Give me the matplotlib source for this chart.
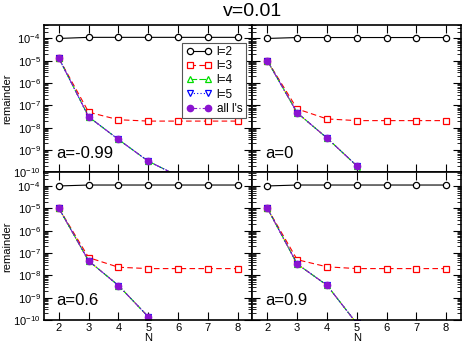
import numpy as np
import matplotlib
matplotlib.use("Agg")
import matplotlib.pyplot as plt
from matplotlib.ticker import LogLocator, NullFormatter

plt.rcParams['font.family'] = ['Liberation Sans', 'DejaVu Sans']
plt.rcParams['mathtext.fontset'] = 'custom'
plt.rcParams['mathtext.rm'] = 'Liberation Sans'

N = [2, 3, 4, 5, 6, 7, 8]
spins = ["a=-0.99", "a=0", "a=0.6", "a=0.9"]

l2 = {
    "a=-0.99": [1.0e-4, 1.12e-4, 1.12e-4, 1.12e-4, 1.12e-4, 1.12e-4, 1.12e-4],
    "a=0": [1.0e-4, 1.1e-4, 1.1e-4, 1.1e-4, 1.1e-4, 1.1e-4, 1.1e-4],
    "a=0.6": [1.0e-4, 1.1e-4, 1.1e-4, 1.1e-4, 1.1e-4, 1.1e-4, 1.1e-4],
    "a=0.9": [1.0e-4, 1.1e-4, 1.1e-4, 1.1e-4, 1.1e-4, 1.1e-4, 1.1e-4],
}
l3 = {
    "a=-0.99": [1.3e-5, 5.0e-8, 2.3e-8, 2.0e-8, 2.0e-8, 2.0e-8, 2.0e-8],
    "a=0": [1.0e-5, 7.0e-8, 2.5e-8, 2.1e-8, 2.1e-8, 2.1e-8, 2.1e-8],
    "a=0.6": [1.0e-5, 6.2e-8, 2.3e-8, 2.0e-8, 2.0e-8, 2.0e-8, 2.0e-8],
    "a=0.9": [1.0e-5, 5.0e-8, 2.4e-8, 2.0e-8, 2.0e-8, 2.0e-8, 2.0e-8],
}
l4 = {
    "a=-0.99": [1.3e-5, 3.1e-8, 3.0e-9, 3.2e-10, 7e-11, 2e-11, 1e-11],
    "a=0": [1.0e-5, 4.7e-8, 3.5e-9, 2.0e-10, 2e-12, 5e-13, 2e-13],
    "a=0.6": [1.0e-5, 4.4e-8, 3.5e-9, 1.4e-10, 2e-12, 5e-13, 2e-13],
    "a=0.9": [1.0e-5, 3.2e-8, 3.6e-9, 7e-11, 1e-12, 3e-13, 1e-13],
}
l5 = l4
l6 = l4
all_l = l4

fig, axes = plt.subplots(2, 2, figsize=(4.63, 3.47), dpi=100, sharex=True, sharey=True)
fig.subplots_adjust(left=44/463, right=461/463, top=1-25/347, bottom=1-320/347,
                    wspace=0, hspace=0)

for ax, a in zip(axes.flat, spins):
    ax.set_yscale('log')
    if a != "a=-0.99":
        ax.plot(N, l6[a], color='yellow', lw=0.8, ls=(0, (4, 2)), zorder=1)
    ax.plot(N, l2[a], color='black', lw=0.8, marker='o', ms=4.5, mfc='white',
            mew=0.9, label='l=2')
    ax.plot(N, l3[a], color='red', lw=0.8, ls=(0, (5, 3)), marker='s', ms=4,
            mfc='white', mew=0.9, label='l=3')
    ax.plot(N, l4[a], color='#00dd00', lw=0.8, ls=(0, (6, 2)), marker='^', ms=4,
            mfc='white', mew=0.9, label='l=4')
    ax.plot(N, l5[a], color='blue', lw=0.8, ls=(0, (1, 2)), marker='v', ms=4,
            mfc='white', mew=0.9, label='l=5')
    ax.plot(N, all_l[a], color='#8a14d0', lw=0.8, ls=(0, (6, 2, 1, 2)), marker='o',
            ms=4.5, mec='#8a14d0', label="all l's")
    ax.set_xlim(1.5, 8.5)
    ax.set_ylim(1e-10, 4e-4)
    ax.set_xticks(N)
    ax.yaxis.set_major_locator(LogLocator(base=10, numticks=20))
    ax.yaxis.set_minor_locator(LogLocator(base=10, subs=np.arange(2, 10), numticks=20))
    ax.yaxis.set_minor_formatter(NullFormatter())
    ax.tick_params(which='both', direction='in', top=True, right=True, labelsize=8)
    ax.tick_params(which='major', length=5.5, width=0.8, pad=2.5)
    ax.tick_params(which='minor', length=3, width=0.6)
    for s in ax.spines.values():
        s.set_linewidth(1.2)
    ax.text(0.06, 0.1, a, transform=ax.transAxes, fontsize=12)

leg = axes[0, 0].legend(loc='upper right', bbox_to_anchor=(0.968, 0.88), fontsize=8.5,
                        numpoints=2, handlelength=2.2, handletextpad=0.4,
                        labelspacing=0.18, borderpad=0.3, borderaxespad=0,
                        fancybox=False, edgecolor='#555555', framealpha=1)
leg.get_frame().set_linewidth(0.8)
for ax in axes[:, 0]:
    ax.set_ylabel('remainder', fontsize=8, labelpad=1)
for ax in axes[1, :]:
    ax.set_xlabel('N', fontsize=8, labelpad=0)

fig.text(253/463, 1-12/347, 'v=0.01', ha='center', va='center', fontsize=14)

fig.savefig('out.png', dpi=100)
